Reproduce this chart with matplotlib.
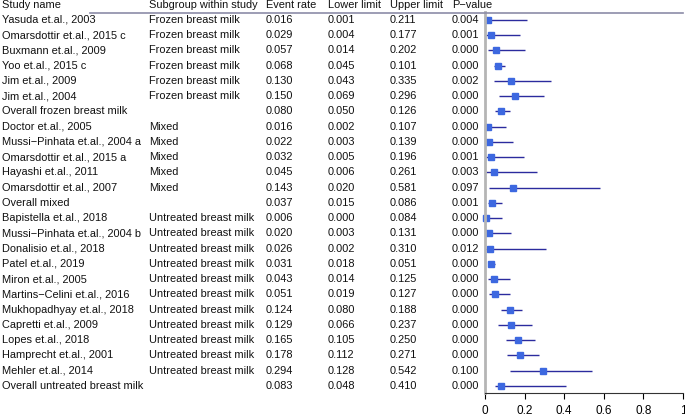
"""Forest plot of event rates by breast milk treatment subgroup."""

import matplotlib.pyplot as plt
from matplotlib.lines import Line2D

plt.rcParams["font.family"] = ["Liberation Sans", "DejaVu Sans"]

studies = [
    "Yasuda et.al., 2003", "Omarsdottir et.al., 2015 c", "Buxmann et.al., 2009",
    "Yoo et.al., 2015 c", "Jim et.al., 2009", "Jim et.al., 2004",
    "Overall frozen breast milk",
    "Doctor et.al., 2005", "Mussi\u2212Pinhata et.al., 2004 a", "Omarsdottir et.al., 2015 a",
    "Hayashi et.al., 2011", "Omarsdottir et.al., 2007",
    "Overall mixed",
    "Bapistella et.al., 2018", "Mussi\u2212Pinhata et.al., 2004 b", "Donalisio et.al., 2018",
    "Patel et.al., 2019", "Miron et.al., 2005", "Martins\u2212Celini et.al., 2016",
    "Mukhopadhyay et.al., 2018", "Capretti et.al., 2009", "Lopes et.al., 2018",
    "Hamprecht et.al., 2001", "Mehler et.al., 2014",
    "Overall untreated breast milk",
]
subgroups = (["Frozen breast milk"] * 6 + [""] + ["Mixed"] * 5 + [""]
             + ["Untreated breast milk"] * 11 + [""])
event_rate = [0.016, 0.029, 0.057, 0.068, 0.130, 0.150, 0.080,
              0.016, 0.022, 0.032, 0.045, 0.143, 0.037,
              0.006, 0.020, 0.026, 0.031, 0.043, 0.051, 0.124, 0.129, 0.165, 0.178, 0.294, 0.083]
lower = [0.001, 0.004, 0.014, 0.045, 0.043, 0.069, 0.050,
         0.002, 0.003, 0.005, 0.006, 0.020, 0.015,
         0.000, 0.003, 0.002, 0.018, 0.014, 0.019, 0.080, 0.066, 0.105, 0.112, 0.128, 0.048]
upper = [0.211, 0.177, 0.202, 0.101, 0.335, 0.296, 0.126,
         0.107, 0.139, 0.196, 0.261, 0.581, 0.086,
         0.084, 0.131, 0.310, 0.051, 0.125, 0.127, 0.188, 0.237, 0.250, 0.271, 0.542, 0.410]
p_value = [0.004, 0.001, 0.000, 0.000, 0.002, 0.000, 0.000,
           0.000, 0.000, 0.001, 0.003, 0.097, 0.001,
           0.000, 0.000, 0.012, 0.000, 0.000, 0.000, 0.000, 0.000, 0.000, 0.000, 0.100, 0.000]
headers = ["Study name", "Subgroup within study", "Event rate", "Lower limit", "Upper limit", "P\u2212value"]
x_ticks = [0, 0.2, 0.4, 0.6, 0.8, 1]
x_tick_labels = ["0", "0.2", "0.4", "0.6", "0.8", "1"]

W, H = 685, 417
fig = plt.figure(figsize=(W / 100, H / 100), dpi=100)

n = len(studies)
first_px, last_px = 20, 386
row_px = (last_px - first_px) / (n - 1)
ax_top_px, ax_bot_px = 12.5, 393
ax = fig.add_axes([485 / W, (H - ax_bot_px) / H, 198 / W, (ax_bot_px - ax_top_px) / H])
ax.set_xlim(0, 1)
ax.set_ylim(n + (ax_bot_px - last_px) / row_px, 1 - (first_px - ax_top_px) / row_px)

rows = list(range(1, n + 1))
for y, est, lo, hi in zip(rows, event_rate, lower, upper):
    ax.plot([lo, hi], [y, y], color="#2b2b9e", lw=1.0, solid_capstyle="butt")
    ax.plot(est, y, marker="s", markersize=5, color="#3d68e0", mec="#3d68e0", clip_on=False)

for side in ["top", "right"]:
    ax.spines[side].set_visible(False)
ax.spines["left"].set_color("#b5b5b5")
ax.spines["left"].set_linewidth(2)
ax.spines["bottom"].set_color("#333333")
ax.set_yticks([])
ax.set_xticks(x_ticks)
ax.set_xticklabels(x_tick_labels)
ax.tick_params(axis="x", direction="out", length=4, width=0.8, labelsize=8.5, pad=4.5)

# table columns, left edges in pixels
col_x = [2, 149, 266, 328, 390, 452]
fs = 7.9
for x_px, head in zip(col_x, headers):
    fig.text(x_px / W, (H - 5) / H, head, fontsize=fs, va="center", ha="left", color="#111111")

for y, name, grp, est, lo, hi, p in zip(rows, studies, subgroups, event_rate, lower, upper, p_value):
    values = [name, grp, f"{est:.3f}", f"{lo:.3f}", f"{hi:.3f}", f"{p:.3f}"]
    for x_px, val in zip(col_x, values):
        xf = (x_px - 485) / 198
        ax.text(xf, y, val, fontsize=fs, va="center", ha="left", color="#111111",
                transform=ax.transData, clip_on=False)

fig.add_artist(Line2D([90 / W, 683 / W], [(H - 12.5) / H] * 2, color="#8c8ca8", lw=1.2))

fig.savefig("out.png", dpi=100)
